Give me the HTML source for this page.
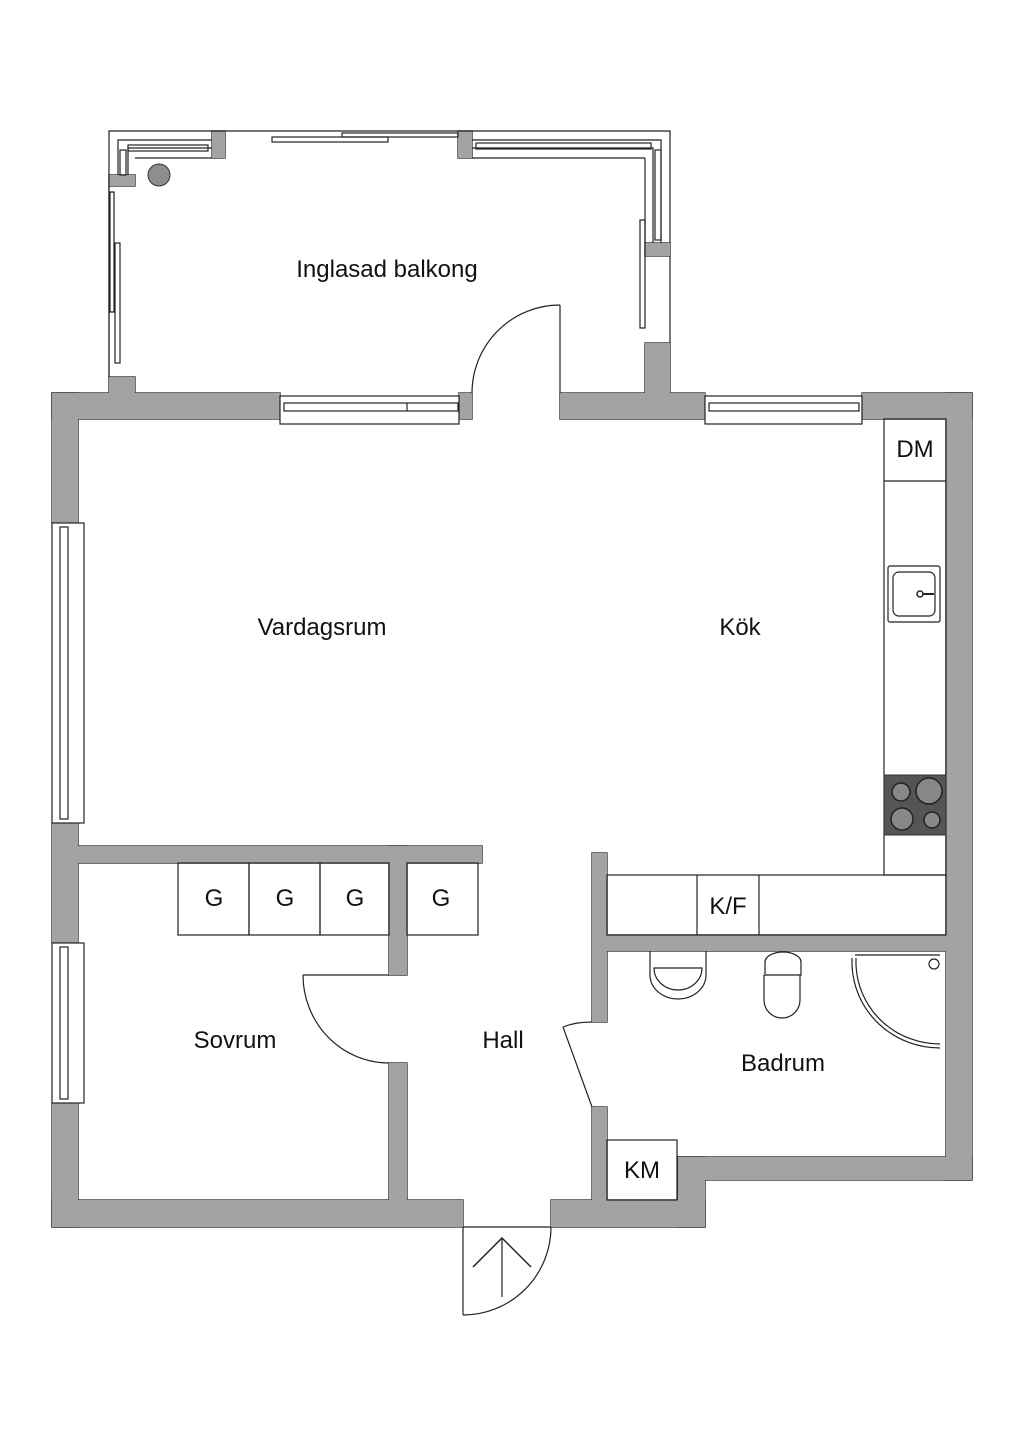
<!DOCTYPE html>
<html><head><meta charset="utf-8"><style>
html,body{margin:0;padding:0;background:#fff;width:1024px;height:1448px;overflow:hidden}
svg{display:block}
text{font-family:"Liberation Sans",sans-serif;fill:#111}
</style></head><body>
<svg width="1024" height="1448" viewBox="0 0 1024 1448" xmlns="http://www.w3.org/2000/svg">
<defs>
<g id="walls">
<rect x="52" y="393" width="228" height="26"/>
<rect x="459" y="393" width="13" height="26"/>
<rect x="560" y="393" width="145" height="26"/>
<rect x="862" y="393" width="110" height="26"/>
<rect x="52" y="393" width="26" height="130"/>
<rect x="52" y="823" width="26" height="120"/>
<rect x="52" y="1103" width="26" height="124"/>
<rect x="946" y="393" width="26" height="787"/>
<rect x="52" y="1200" width="411" height="27"/>
<rect x="551" y="1200" width="154" height="27"/>
<rect x="678" y="1157" width="294" height="23"/>
<rect x="678" y="1157" width="27" height="70"/>
<rect x="78" y="846" width="404" height="17"/>
<rect x="389" y="846" width="18" height="129"/>
<rect x="389" y="1063" width="18" height="137"/>
<rect x="592" y="853" width="15" height="169"/>
<rect x="592" y="1107" width="15" height="93"/>
<rect x="607" y="935" width="339" height="16"/>
<rect x="109" y="377" width="26" height="16"/>
<rect x="645" y="343" width="25" height="50"/>
<rect x="212" y="131" width="13" height="27"/>
<rect x="458" y="131" width="14" height="27"/>
<rect x="645" y="243" width="25" height="13"/>
<rect x="109" y="175" width="26" height="11"/>
</g>
</defs>
<use href="#walls" fill="#a3a3a3" stroke="#333" stroke-width="1.4"/>
<use href="#walls" fill="#a3a3a3" stroke="#a3a3a3" stroke-width="0" transform="translate(0,0)"/>
<g fill="#a3a3a3">
<!-- seam covers -->
<rect x="53" y="394" width="226" height="24"/>
<rect x="53" y="394" width="24" height="128"/>
<rect x="53" y="824" width="24" height="118"/>
<rect x="53" y="1104" width="24" height="122"/>
<rect x="53" y="1201" width="409" height="25"/>
<rect x="863" y="394" width="108" height="24"/>
<rect x="947" y="394" width="24" height="785"/>
<rect x="679" y="1158" width="292" height="21"/>
<rect x="679" y="1158" width="25" height="68"/>
<rect x="552" y="1201" width="152" height="25"/>
<rect x="79" y="847" width="402" height="15"/>
<rect x="390" y="847" width="16" height="127"/>
<rect x="390" y="1064" width="16" height="135"/>
<rect x="593" y="1108" width="13" height="91"/>
<rect x="593" y="854" width="13" height="167"/>
<rect x="593" y="936" width="352" height="14"/>
<rect x="946" y="936" width="1" height="14"/>
</g>
<g fill="none" stroke="#222" stroke-width="1.2">
<polyline points="109,377 109,131 670,131 670,243"/>
<line x1="670" y1="256" x2="670" y2="343"/>
<line x1="135" y1="158" x2="212" y2="158"/>
<line x1="472" y1="158" x2="645" y2="158"/>
<line x1="645" y1="158" x2="645" y2="243"/>
<line x1="109" y1="186" x2="109" y2="377"/>
<polyline points="118,175 118,140 212,140"/>
<polyline points="128,175 128,148 212,148"/>
<rect x="128" y="145" width="80" height="6"/>
<rect x="120" y="150" width="6" height="25"/>
<polyline points="472,140 661,140 661,243"/>
<polyline points="472,148 653,148 653,243"/>
<rect x="476" y="143" width="175" height="6"/>
<rect x="655" y="150" width="6" height="90"/>
<rect x="272" y="137" width="116" height="5"/>
<rect x="342" y="133" width="116" height="4"/>
<rect x="110" y="192" width="4" height="120"/>
<rect x="115" y="243" width="5" height="120"/>
<rect x="640" y="220" width="5" height="108"/>
<rect x="280" y="396" width="179" height="28" fill="#fff"/>
<rect x="284" y="403" width="174" height="8"/>
<line x1="407" y1="403" x2="407" y2="411"/>
<rect x="705" y="396" width="157" height="28" fill="#fff"/>
<rect x="709" y="403" width="150" height="8"/>
<rect x="52" y="523" width="32" height="300" fill="#fff"/>
<rect x="60" y="527" width="8" height="292"/>
<rect x="52" y="943" width="32" height="160" fill="#fff"/>
<rect x="60" y="947" width="8" height="152"/>
<line x1="560" y1="305" x2="560" y2="393"/>
<path d="M472,393 A88,88 0 0 1 560,305"/>
<line x1="303" y1="975" x2="389" y2="975"/>
<path d="M303,975 A86,88 0 0 0 389,1063"/>
<rect x="178" y="863" width="71" height="72"/>
<rect x="249" y="863" width="71" height="72"/>
<rect x="320" y="863" width="69" height="72"/>
<rect x="407" y="863" width="71" height="72"/>
<rect x="884" y="419" width="62" height="456"/>
<line x1="884" y1="481" x2="946" y2="481"/>
<rect x="607" y="875" width="339" height="60"/>
<line x1="697" y1="875" x2="697" y2="935"/>
<line x1="759" y1="875" x2="759" y2="935"/>
<rect x="888" y="566" width="52" height="56" rx="2"/>
<rect x="893" y="572" width="42" height="44" rx="6"/>
<path d="M592,1022 Q575,1022 563,1027 L592,1107"/>
<rect x="607" y="1140" width="70" height="60"/>
<path d="M650,951 L650,975 A28,24 0 0 0 706,975 L706,951"/>
<path d="M654,968 A24,22 0 0 0 702,968 Z"/>
<path d="M765,962 A18,10 0 0 1 801,962 L801,975 L765,975 Z"/>
<path d="M764,975 L764,1000 A18,18 0 0 0 800,1000 L800,975"/>
<path d="M852,958 L852,965 A88,86 0 0 0 940,1048"/>
<path d="M856,958 L856,965 A84,82 0 0 0 940,1044"/>
<circle cx="934" cy="964" r="5"/>
<line x1="855" y1="955" x2="940" y2="955"/>
<line x1="463" y1="1227" x2="463" y2="1315"/>
<line x1="463" y1="1227" x2="551" y2="1227"/>
<path d="M463,1315 A88,88 0 0 0 551,1227"/>
<line x1="502" y1="1238" x2="502" y2="1297"/>
<polyline points="473,1267 502,1238 531,1267" stroke-width="1.5"/>
</g>
<circle cx="159" cy="175" r="11" fill="#8e8e8e" stroke="#333"/>
<circle cx="920" cy="594" r="3" fill="none" stroke="#222" stroke-width="1.5"/>
<line x1="923" y1="594" x2="934" y2="594" stroke="#222" stroke-width="2"/>
<rect x="884" y="775" width="62" height="60" fill="#555" stroke="#333"/>
<g fill="#888" stroke="#222" stroke-width="1.5">
<circle cx="901" cy="792" r="9"/><circle cx="929" cy="791" r="13"/>
<circle cx="902" cy="819" r="11"/><circle cx="932" cy="820" r="8"/>
</g>
<g font-size="24" text-anchor="middle">
<text x="387" y="277">Inglasad balkong</text>
<text x="322" y="635">Vardagsrum</text>
<text x="740" y="635">Kök</text>
<text x="235" y="1048">Sovrum</text>
<text x="503" y="1048">Hall</text>
<text x="783" y="1071">Badrum</text>
<text x="915" y="457">DM</text>
<text x="214" y="906">G</text>
<text x="285" y="906">G</text>
<text x="355" y="906">G</text>
<text x="441" y="906">G</text>
<text x="728" y="914">K/F</text>
<text x="642" y="1178">KM</text>
</g>
</svg>
</body></html>
